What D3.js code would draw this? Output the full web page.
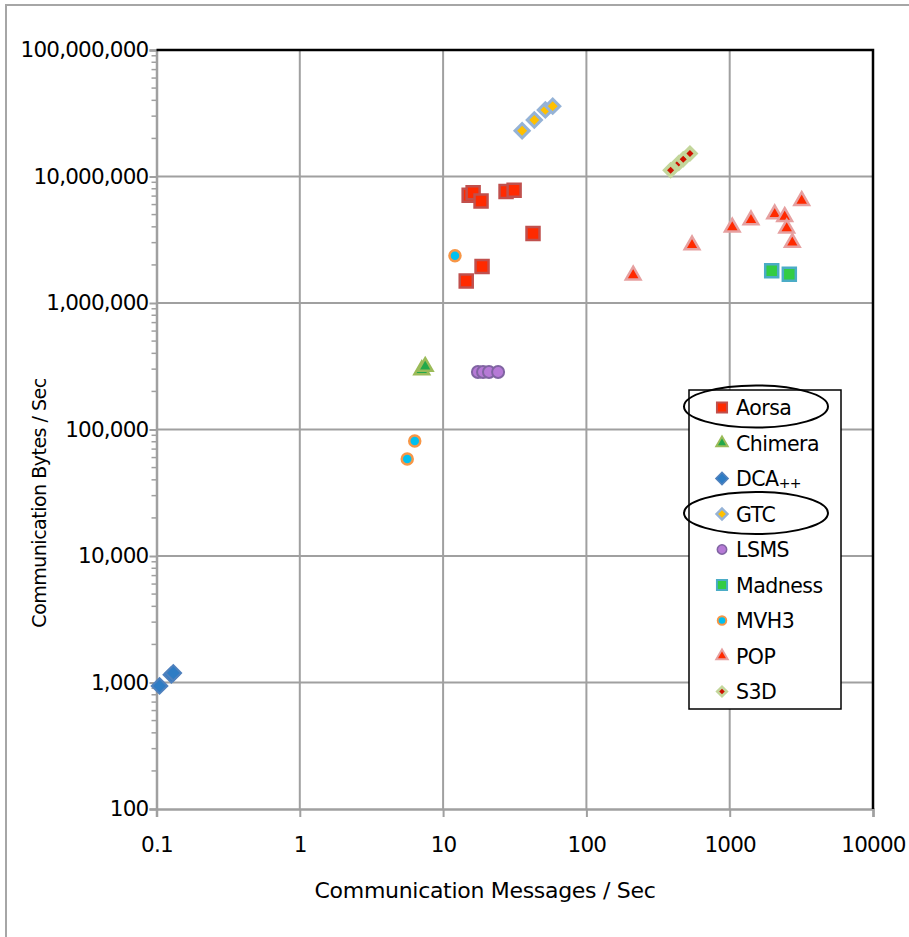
<!DOCTYPE html>
<html>
<head>
<meta charset="utf-8">
<script src="https://cdn.jsdelivr.net/npm/d3@7"></script>
<style>
  html, body { margin: 0; padding: 0; background: #fff; }
  svg { display: block; }
  text { font-family: "DejaVu Sans", sans-serif; fill: #000; }
</style>
</head>
<body>
<svg id="chart" width="909" height="937"></svg>
<script>
// ---- data (messages/sec, bytes/sec) ----
const seriesNames = ["Aorsa", "Chimera", "DCA++", "GTC", "LSMS", "Madness", "MVH3", "POP", "S3D"];
const aorsa   = [[15.2, 7.1e6], [16.2, 7.45e6], [18.4, 6.4e6], [27.5, 7.6e6], [31.3, 7.8e6], [42.4, 3.55e6], [18.7, 1.94e6], [14.5, 1.49e6]];
const chimera = [[7.1, 2.95e5], [7.5, 3.14e5]];
const dca     = [[0.105, 940], [0.127, 1150], [0.131, 1190]];
const gtc     = [[35.6, 2.3e7], [43.3, 2.8e7], [51.7, 3.36e7], [58.2, 3.6e7]];
const lsms    = [[17.5, 2.85e5], [19.0, 2.85e5], [20.9, 2.85e5], [24.2, 2.85e5]];
const madness = [[1964, 1.8e6], [2606, 1.69e6]];
const mvh3    = [[12.1, 2.36e6], [6.34, 8.1e4], [5.62, 5.85e4]];
const pop     = [[212, 1.66e6], [546, 2.87e6], [1042, 3.97e6], [1408, 4.53e6], [2061, 5.05e6], [2420, 4.81e6], [2500, 3.9e6], [2735, 3.0e6], [3180, 6.44e6]];
const s3d     = [[387, 1.12e7], [441, 1.28e7], [474, 1.37e7], [528, 1.52e7]];
const seriesData = [aorsa, chimera, dca, gtc, lsms, madness, mvh3, pop, s3d];

const xTickValues = [0.1, 1, 10, 100, 1000, 10000];
const xTickLabels = ["0.1", "1", "10", "100", "1000", "10000"];
const yTickValues = [100, 1000, 10000, 100000, 1000000, 10000000, 100000000];
const circledLegend = ["Aorsa", "GTC"];

// ---- styles ----
const styles = {
  "Aorsa":   {shape: "square",   fill: "#ff2a00", stroke: "#c0504d", size: 13, sw: 2.5},
  "Chimera": {shape: "triangle", fill: "#22a84a", stroke: "#9bbb59", size: 13, sw: 2.5},
  "DCA++":   {shape: "diamond",  fill: "#2e7cc4", stroke: "#4f81bd", size: 11, sw: 2},
  "GTC":     {shape: "diamond",  fill: "#ffc000", stroke: "#95b3d7", size: 10, sw: 3},
  "LSMS":    {shape: "circle",   fill: "#b67ad6", stroke: "#8064a2", size: 12, sw: 2},
  "Madness": {shape: "square",   fill: "#33cc44", stroke: "#4bacc6", size: 13, sw: 2.5},
  "MVH3":    {shape: "circle",   fill: "#00c0f0", stroke: "#f79646", size: 11, sw: 2.5},
  "POP":     {shape: "triangle", fill: "#ff2a00", stroke: "#e6a0a0", size: 13, sw: 2.5},
  "S3D":     {shape: "diamond",  fill: "#cc1100", stroke: "#c3d69b", size: 8.5, sw: 3.5}
};

const svg = d3.select("#chart");
const pLeft = 156.5, pRight = 873, pTop = 50, pBottom = 809;
const x = d3.scaleLog().domain([0.1, 10000]).range([pLeft, pRight]);
const y = d3.scaleLog().domain([100, 1e8]).range([pBottom, pTop]);

// outer frame
svg.append("rect").attr("x", 6).attr("y", 5).attr("width", 1000).attr("height", 1000)
  .attr("fill", "none").attr("stroke", "#a6a6a6").attr("stroke-width", 2);

const grid = "#a0a0a0";
// gridlines
svg.append("g").selectAll("line").data(xTickValues.slice(1, -1)).join("line")
  .attr("x1", d => x(d)).attr("x2", d => x(d)).attr("y1", pTop).attr("y2", pBottom)
  .attr("stroke", grid).attr("stroke-width", 2);
svg.append("g").selectAll("line").data(yTickValues.slice(1, -1)).join("line")
  .attr("y1", d => y(d)).attr("y2", d => y(d)).attr("x1", pLeft).attr("x2", pRight)
  .attr("stroke", grid).attr("stroke-width", 2);

// y axis minor ticks
const yMinor = [];
for (let e = 2; e < 8; e++) for (let m = 2; m <= 9; m++) yMinor.push(m * Math.pow(10, e));
svg.append("g").selectAll("line").data(yMinor).join("line")
  .attr("x1", pLeft - 5).attr("x2", pLeft).attr("y1", d => y(d)).attr("y2", d => y(d))
  .attr("stroke", grid).attr("stroke-width", 1.5);

// y axis
const yAxis = d3.axisLeft(y).tickValues(yTickValues).tickFormat(d3.format(",")).tickSize(7).tickPadding(1);
const gy = svg.append("g").attr("transform", `translate(${pLeft},0)`).call(yAxis);
gy.select(".domain").attr("stroke", grid).attr("stroke-width", 2.5);
gy.selectAll(".tick line").attr("stroke", grid).attr("stroke-width", 2);
gy.selectAll(".tick text").attr("font-size", 21.5).attr("font-family", "DejaVu Sans").attr("letter-spacing", -0.8);

// x axis
const xAxis = d3.axisBottom(x).tickValues(xTickValues).tickFormat((d, i) => xTickLabels[i]).tickSize(8).tickPadding(20);
const gx = svg.append("g").attr("transform", `translate(0,${pBottom})`).call(xAxis);
gx.select(".domain").attr("stroke", grid).attr("stroke-width", 2.5);
gx.selectAll(".tick line").attr("stroke", grid).attr("stroke-width", 2);
gx.selectAll(".tick text").attr("font-size", 21.5).attr("font-family", "DejaVu Sans").attr("letter-spacing", -0.8);

// top and right border
svg.append("path").attr("d", `M${pLeft},${pTop}H${pRight}V${pBottom}`)
  .attr("fill", "none").attr("stroke", "#000").attr("stroke-width", 2.5);

// axis titles
svg.append("text").attr("x", (313 + 657) / 2).attr("y", 898).attr("text-anchor", "middle")
  .attr("font-size", 22).attr("letter-spacing", -0.3).text("Communication Messages / Sec");
svg.append("text").attr("transform", "translate(46,503) rotate(-90)").attr("text-anchor", "middle")
  .attr("font-size", 19).attr("letter-spacing", -0.5).text("Communication Bytes / Sec");

function symbolPath(shape, s) {
  if (shape === "square") return d3.symbol(d3.symbolSquare, s * s)();
  if (shape === "diamond") return d3.symbol(d3.symbolSquare, s * s)();
  if (shape === "circle") return d3.symbol(d3.symbolCircle, Math.PI * (s / 2) * (s / 2))();
  if (shape === "triangle") return d3.symbol(d3.symbolTriangle, s * s * 0.55)();
}
function drawMarker(g, name, cx, cy, scale) {
  const st = styles[name];
  const s = st.size * scale;
  g.append("path")
    .attr("d", symbolPath(st.shape, s))
    .attr("transform", `translate(${cx},${cy})` + (st.shape === "diamond" ? " rotate(45)" : ""))
    .attr("fill", st.fill).attr("stroke", st.stroke).attr("stroke-width", st.sw * scale)
    .attr("stroke-linejoin", "miter");
}

// points
const pts = svg.append("g");
seriesNames.forEach((name, i) => {
  seriesData[i].forEach(d => drawMarker(pts, name, x(d[0]), y(d[1]), 1));
});

// legend
const lg = svg.append("g");
lg.append("rect").attr("x", 689).attr("y", 390).attr("width", 152).attr("height", 319)
  .attr("fill", "#fff").attr("stroke", "#000").attr("stroke-width", 1.5);
seriesNames.forEach((name, i) => {
  const cy = 407.5 + i * 35.5;
  drawMarker(lg, name, 722, cy, 0.78);
  const t = lg.append("text").attr("x", 736).attr("y", cy + 7.5).attr("font-size", 20.5).attr("letter-spacing", -0.5);
  if (name === "DCA++") {
    t.append("tspan").text("DCA");
    t.append("tspan").attr("font-size", 14).attr("dy", 2).text("++");
  } else {
    t.text(name);
  }
});
// hand-drawn ellipses around two legend entries
circledLegend.forEach(name => {
  const i = seriesNames.indexOf(name);
  const cy = 407.5 + i * 35.5;
  lg.append("ellipse").attr("cx", 756).attr("cy", cy - 1).attr("rx", 72).attr("ry", 21)
    .attr("fill", "none").attr("stroke", "#000").attr("stroke-width", 2);
});
</script>
</body>
</html>
